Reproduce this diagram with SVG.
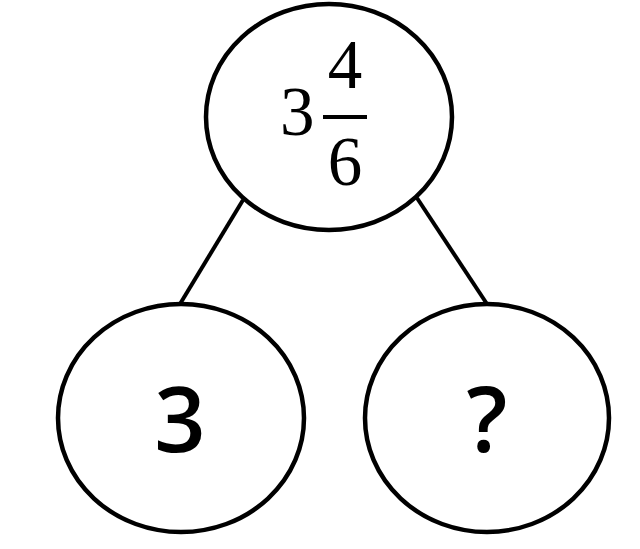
<svg xmlns="http://www.w3.org/2000/svg" width="640" height="549" viewBox="0 0 640 549">
<style>
.node{fill:#fff;stroke:#000;stroke-width:4.5}
.edge{stroke:#000;stroke-width:4;fill:none}
.serif{font-family:"Liberation Serif","Times New Roman",serif;font-size:69px;fill:#000}
.sans{font-family:"Open Sans","Liberation Sans",sans-serif;font-size:90px;font-weight:600;fill:#000;text-anchor:middle}
</style>
<rect width="640" height="549" fill="#fff"/>
<g id="connectors">
<line class="edge" x1="243" y1="200" x2="180" y2="304"/>
<line class="edge" x1="417" y1="198" x2="487" y2="304"/>
</g>
<g id="top">
<ellipse class="node" cx="329" cy="117" rx="123" ry="113"/>
<text class="serif" x="280" y="135">3</text>
<text class="serif" x="345" y="88" text-anchor="middle">4</text>
<line x1="323" y1="117" x2="367" y2="117" stroke="#000" stroke-width="4"/>
<text class="serif" x="345" y="185" text-anchor="middle">6</text>
</g>
<g id="left">
<ellipse class="node" cx="181" cy="418" rx="123" ry="114"/>
<text class="sans" x="180" y="452">3</text>
</g>
<g id="right">
<ellipse class="node" cx="487" cy="418" rx="122" ry="114"/>
<text class="sans" x="487" y="452">?</text>
</g>
</svg>
